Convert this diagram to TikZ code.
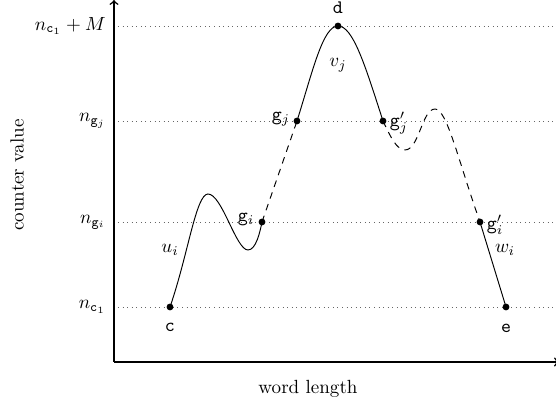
\documentclass[tikz,border=0pt]{standalone}
\begin{document}
\begin{tikzpicture}[x=0.525pt,y=-0.525pt,
  dot/.style={circle,fill=black,inner sep=0pt,minimum size=3.6pt},
  guide/.style={dotted,gray!80!black,line width=0.4pt},
  axis/.style={thick,->},
  curve/.style={line width=0.5pt},
  dcurve/.style={line width=0.5pt,dash pattern=on 3.5pt off 3pt},
  lab/.style={inner sep=1pt}]
\useasboundingbox (0,0) rectangle (556,407);
% axes
\coordinate (O) at (114,362);
\coordinate (ytop) at (114,0);
\coordinate (xend) at (559,362);
% guide lines
\foreach \nm/\yy in {M/26,J/121,I/222,C/307}{
  \coordinate (gl\nm) at (118,\yy);
  \coordinate (gr\nm) at (556,\yy);
  \draw[guide] (gl\nm) -- (gr\nm);
}
\draw[axis] (O) -- (ytop);
\draw[axis] (O) -- (xend);
% axis labels
\node[lab,anchor=east] (lM) at (108,26) {$n_{\mathtt{c}_1}+M$};
\node[lab,anchor=east] (lJ) at (108,121) {$n_{\mathtt{g}_j}$};
\node[lab,anchor=east] (lI) at (108,222) {$n_{\mathtt{g}_i}$};
\node[lab,anchor=east] (lC) at (108,307) {$n_{\mathtt{c}_1}$};
\node[rotate=90] (ylab) at (17,175) {counter value};
\node (xlab) at (308,389) {word length};
% points
\node[dot] (c) at (170,307) {};
\node[dot] (gi) at (262,222) {};
\node[dot] (gj) at (297,121) {};
\node[dot] (d) at (338,26) {};
\node[dot] (gjp) at (383,121) {};
\node[dot] (gip) at (480,222) {};
\node[dot] (e) at (506,307) {};
% curves
\draw[curve] (c.center) .. controls (188,255) and (196,194) .. (208,194)
  .. controls (222,194) and (236,250) .. (248,250)
  .. controls (256,250) and (260,232) .. (gi.center);
\draw[dcurve] (gi.center) -- (gj.center);
\draw[curve] (gj.center) .. controls (313,70) and (323,26) .. (d.center)
  .. controls (353,26) and (365,65) .. (gjp.center);
\draw[dcurve] (gjp.center) .. controls (391,138) and (397,150) .. (405,150)
  .. controls (419,150) and (422,109) .. (435,109)
  .. controls (447,109) and (458,160) .. (gip.center);
\draw[curve] (gip.center) -- (e.center);
% point labels
\node (lc) at (170,327) {$\mathtt{c}$};
\node (ld) at (338,8) {$\mathtt{d}$};
\node (le) at (506,328) {$\mathtt{e}$};
\node (lgi) at (246,220) {$\mathtt{g}_i$};
\node (lgj) at (281,119) {$\mathtt{g}_j$};
\node (lgjp) at (399,123) {$\mathtt{g}'_j$};
\node (lgip) at (495,225) {$\mathtt{g}'_i$};
\node (lu) at (170,250) {$u_i$};
\node (lv) at (338,65) {$v_j$};
\node (lw) at (505,250) {$w_i$};
\end{tikzpicture}
\end{document}
